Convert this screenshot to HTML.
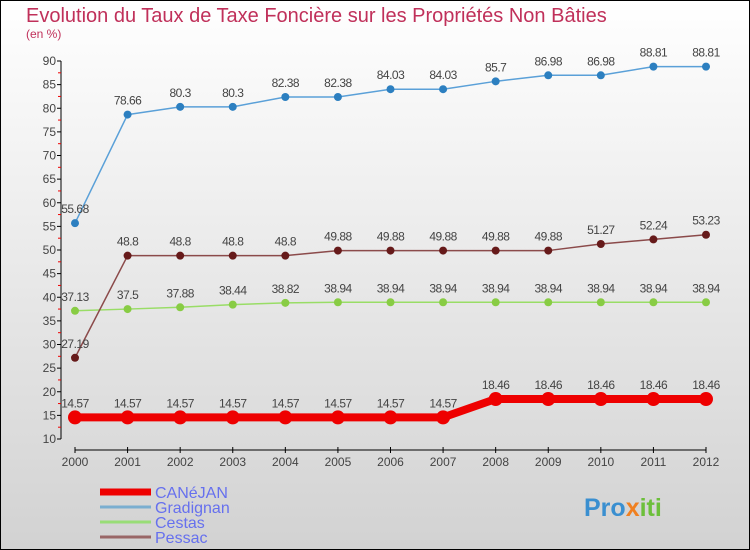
<!DOCTYPE html>
<html><head><meta charset="utf-8"><style>
body{margin:0}
svg{display:block;font-family:"Liberation Sans",sans-serif}
</style></head><body>
<svg id="c" width="750" height="550">
<defs><linearGradient id="bg" x1="0" y1="0" x2="0" y2="1"><stop offset="0" stop-color="#ffffff"/><stop offset="1" stop-color="#d2d2d2"/></linearGradient></defs>
<rect x="0.5" y="0.5" width="749" height="549" fill="url(#bg)" stroke="#000"/>
<text x="26" y="22" font-size="20" fill="#c0305a">Evolution du Taux de Taxe Foncière sur les Propriétés Non Bâties</text>
<text x="26" y="38" font-size="12" fill="#c0305a">(en %)</text>
<g id="axes"></g><g id="series"></g><g id="legend"></g>
<text x="584" y="516" font-size="25" font-weight="bold" fill="#3a8fd0">Pro<tspan fill="#f08020">x</tspan><tspan fill="#6cbf3a">iti</tspan></text>
</svg>
<script>
const years=[2000,2001,2002,2003,2004,2005,2006,2007,2008,2009,2010,2011,2012];
const canejan=[14.57,14.57,14.57,14.57,14.57,14.57,14.57,14.57,18.46,18.46,18.46,18.46,18.46];
const gradignan=[55.68,78.66,80.3,80.3,82.38,82.38,84.03,84.03,85.7,86.98,86.98,88.81,88.81];
const cestas=[37.13,37.5,37.88,38.44,38.82,38.94,38.94,38.94,38.94,38.94,38.94,38.94,38.94];
const pessac=[27.19,48.8,48.8,48.8,48.8,49.88,49.88,49.88,49.88,49.88,51.27,52.24,53.23];
const yTicks=[10,15,20,25,30,35,40,45,50,55,60,65,70,75,80,85,90];
const NS="http://www.w3.org/2000/svg";
const X=i=>75+i*(631/12);
const Y=v=>439-(v-10)*(378/80);
function mk(p,t,a){const e=document.createElementNS(NS,t);for(const k in a)e.setAttribute(k,a[k]);p.appendChild(e);return e;}
const ax=document.getElementById('axes');
const yl=mk(ax,'line',{x1:61,y1:61,x2:61,y2:439,stroke:'#000'});


yTicks.forEach((v,k)=>{
 mk(ax,'line',{x1:57,x2:61,y1:Y(v),y2:Y(v),stroke:'#000'});
 if(k<yTicks.length-1) mk(ax,'line',{x1:58,x2:61,y1:Y(v+2.5),y2:Y(v+2.5),stroke:'#e00'});
 const t=mk(ax,'text',{x:56,y:Y(v)+4,'font-size':12,'text-anchor':'end',fill:'#444'});t.textContent=v;
 
 
});
const xl=mk(ax,'line',{x1:75,y1:450,x2:706,y2:450,stroke:'#000'});


years.forEach((y,i)=>{
 mk(ax,'line',{x1:X(i),x2:X(i),y1:447,y2:453,stroke:'#000'});
 const t=mk(ax,'text',{x:X(i),y:466,'font-size':12,'text-anchor':'middle',fill:'#444'});t.textContent=y;
 
 
});
const sg=document.getElementById('series');
function draw(name,vals,col,dot,w,r){
 const g=mk(sg,'g',{});
 
 
 mk(g,'polyline',{points:vals.map((v,i)=>X(i)+','+Y(v)).join(' '),fill:'none',stroke:col,'stroke-width':w,'stroke-linejoin':'round'});
 vals.forEach((v,i)=>{
  const c=mk(g,'circle',{cx:X(i),cy:Y(v),r:r,fill:dot});
  
  
  const t=mk(g,'text',{x:X(i),y:Y(v)-10,'font-size':12,'text-anchor':'middle',fill:'#444','letter-spacing':'-0.5'});t.textContent=v;
  
  
 });
}
draw('cestas',cestas,'#99dd66','#88cc44',1.5,4);
draw('pessac',pessac,'#8b4a4a','#661a1a',1.5,4);
draw('gradignan',gradignan,'#5aa0d8','#2c7fc0',1.5,4);
draw('canejan',canejan,'#ee0000','#ee0000',8,7);
const lg=document.getElementById('legend');
[['CANéJAN','#ee0000',7],['Gradignan','#7aaed0',3],['Cestas','#99dd77',3],['Pessac','#996666',3]].forEach((d,i)=>{
 const y=492+i*15;
 const g=mk(lg,'g',{});
 
 
 mk(g,'line',{x1:100,x2:151,y1:y,y2:y,stroke:d[1],'stroke-width':d[2]});
 const t=mk(g,'text',{x:155,y:y+6,'font-size':16,fill:'#6670ee'});t.textContent=d[0];
});
</script>
</body></html>
